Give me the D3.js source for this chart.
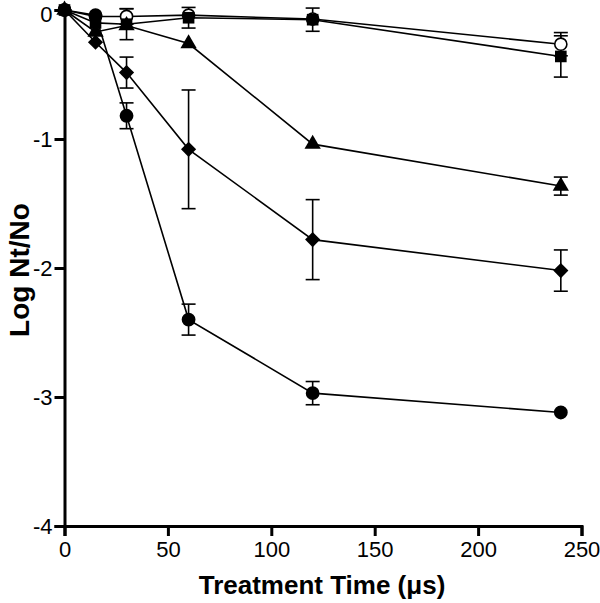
<!DOCTYPE html>
<html><head><meta charset="utf-8">
<script src="https://cdn.jsdelivr.net/npm/d3@7"></script>
<style>body{margin:0;background:#fff}</style>
</head><body>
<svg id="c" width="600" height="603"></svg>
<script>
const times = [0, 15, 30, 60, 120, 240];
const xTicks = [0, 50, 100, 150, 200, 250];
const yTicks = [0, -1, -2, -3, -4];
const circleFilled = [0, -0.04, -0.82, -2.40, -2.97, -3.12];
const circleFilledErr = [0, 0.02, 0.10, 0.12, 0.09, 0.02];
const diamond = [0, -0.25, -0.485, -1.08, -1.78, -2.02];
const diamondErr = [0, 0.02, 0.12, 0.46, 0.31, 0.16];
const triangle = [0, -0.17, -0.12, -0.26, -1.04, -1.365];
const triangleErr = [0, 0.02, 0.03, 0.03, 0.02, 0.07];
const square = [0, -0.10, -0.11, -0.06, -0.075, -0.36];
const squareErr = [0, 0.02, 0.12, 0.08, 0.09, 0.16];
const circleOpen = [0, -0.05, -0.05, -0.04, -0.07, -0.265];
const circleOpenErr = [0, 0.02, 0.06, 0.03, 0.03, 0.09];

const series = [
  {vals: circleOpen, err: circleOpenErr, shape: "openCircle"},
  {vals: square, err: squareErr, shape: "square"},
  {vals: triangle, err: triangleErr, shape: "triangle"},
  {vals: diamond, err: diamondErr, shape: "diamond"},
  {vals: circleFilled, err: circleFilledErr, shape: "circle"}
];

const font = "Liberation Sans, Arial, Helvetica, sans-serif";
const svg = d3.select("#c");
const x = d3.scaleLinear().domain([0, 250]).range([64.5, 581.5]);
const y = d3.scaleLinear().domain([0, -4]).range([10, 526]);

const xa = svg.append("g").attr("transform", `translate(0,${y(-4)})`)
  .call(d3.axisBottom(x).tickValues(xTicks).tickSize(10).tickPadding(5).tickFormat(d3.format("d")));
const ya = svg.append("g").attr("transform", `translate(${x(0)},0)`)
  .call(d3.axisLeft(y).tickValues(yTicks).tickSize(10).tickPadding(2).tickFormat(d => d === 0 ? "0" : "-" + Math.abs(d)));
[xa, ya].forEach(a => {
  a.select(".domain").attr("stroke", "#000").attr("stroke-width", 3);
  a.selectAll(".tick line").attr("stroke", "#000").attr("stroke-width", 3);
  a.selectAll(".tick text").attr("font-family", font).attr("font-size", 22).attr("fill", "#000");
});
ya.selectAll(".tick text").attr("dy", d => d === 0 ? "0.5em" : "0.36em");

const line = d3.line().x((d, i) => x(times[i])).y(d => y(d));
const g = svg.append("g");

series.forEach(s => {
  g.append("path").attr("d", line(s.vals)).attr("fill", "none").attr("stroke", "#000").attr("stroke-width", 1.6);
});
series.forEach(s => {
  s.vals.forEach((v, i) => {
    const e = s.err[i];
    if (e <= 0.03) return;
    const cx = x(times[i]);
    const y1 = y(v + e), y2 = y(v - e);
    g.append("line").attr("x1", cx).attr("x2", cx).attr("y1", y1).attr("y2", y2).attr("stroke", "#000").attr("stroke-width", 1.6);
    [y1, y2].forEach(yy => g.append("line").attr("x1", cx - 7).attr("x2", cx + 7).attr("y1", yy).attr("y2", yy).attr("stroke", "#000").attr("stroke-width", 1.6));
  });
});
const sym = {
  circle: d3.symbol().type(d3.symbolCircle).size(150),
  openCircle: d3.symbol().type(d3.symbolCircle).size(115),
  square: d3.symbol().type(d3.symbolSquare).size(135),
  triangle: d3.symbol().type(d3.symbolTriangle).size(115),
  diamond: d3.symbol().type(d3.symbolSquare).size(115)
};
series.forEach(s => {
  s.vals.forEach((v, i) => {
    const p = g.append("path").attr("d", sym[s.shape]())
      .attr("transform", `translate(${x(times[i])},${y(v)})` + (s.shape === "diamond" ? " rotate(45)" : ""));
    if (s.shape === "openCircle") p.attr("fill", "#fff").attr("stroke", "#000").attr("stroke-width", 1.6);
    else p.attr("fill", "#000");
  });
});

svg.append("text").attr("x", 322).attr("y", 594).attr("text-anchor", "middle")
  .attr("font-family", font).attr("font-weight", "bold").attr("font-size", 26)
  .text("Treatment Time (μs)");
svg.append("text").attr("transform", "translate(29,270) rotate(-90)").attr("text-anchor", "middle")
  .attr("font-family", font).attr("font-weight", "bold").attr("font-size", 28)
  .text("Log Nt/No");
</script>
</body></html>
